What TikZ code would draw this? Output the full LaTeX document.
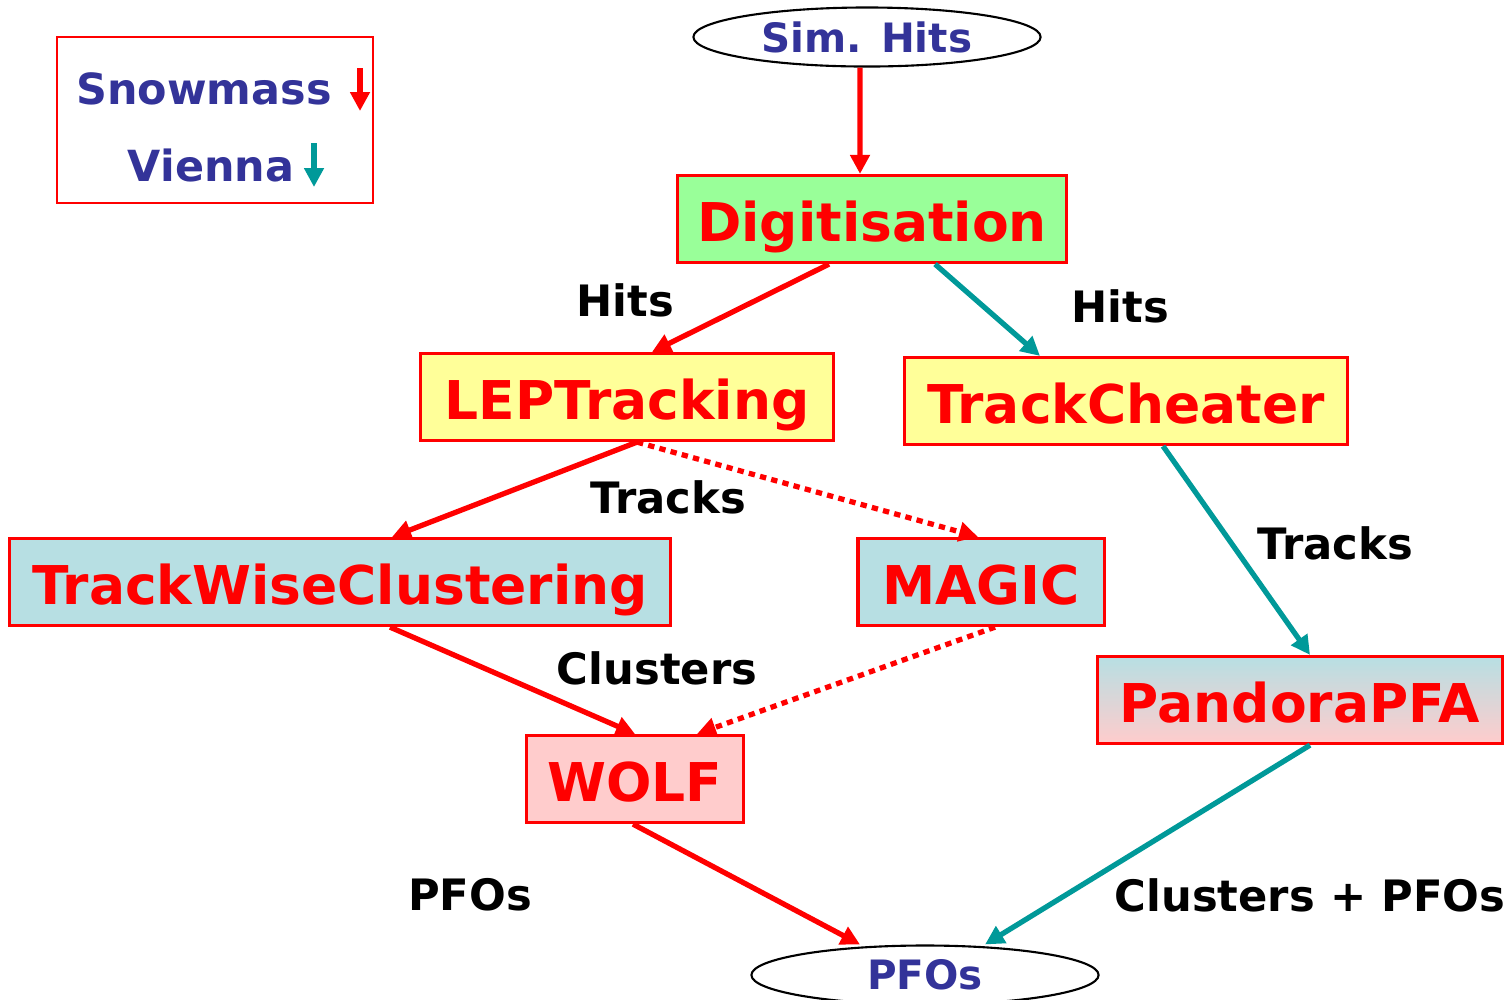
\documentclass[tikz,border=0pt]{standalone}
\usepackage{fontspec}
\setmainfont{DejaVu Sans}
\usepackage{xcolor}
\usetikzlibrary{arrows.meta,shapes.geometric,calc}

\definecolor{boxred}{HTML}{FF0000}
\definecolor{digigreen}{HTML}{99FF99}
\definecolor{lepyellow}{HTML}{FFFF99}
\definecolor{clublue}{HTML}{B7DFE3}
\definecolor{pfapink}{HTML}{FFCCCC}
\definecolor{viennateal}{HTML}{009999}
\definecolor{simblue}{HTML}{333399}

\begin{document}
\begin{tikzpicture}[
    x=0.01cm, y=-0.01cm,
    >={Triangle[length=5.4pt,width=5.4pt]},
    proc/.style={rectangle,draw=boxred,line width=0.9pt,minimum height=0.87cm,inner sep=0pt,
                 text height=0.52cm,text depth=0.08cm,
                 text=boxred,font=\fontsize{15.2}{18}\selectfont\bfseries},
    io/.style={ellipse,draw=black,line width=0.6pt,minimum width=3.47cm,minimum height=0.59cm,inner sep=0pt,
               text=simblue,font=\fontsize{11.5}{14}\selectfont\bfseries},
    flow/.style={font=\fontsize{12.3}{15}\selectfont\bfseries},
    snow/.style={->,draw=boxred,line width=1.5pt},
    vien/.style={->,draw=viennateal,line width=1.5pt},
    snowdot/.style={snow,dash pattern=on 1.8pt off 1.5pt},
]
\useasboundingbox (0,0) rectangle (1504,999);

% ---- legend ----
\node[draw=boxred,line width=0.6pt,minimum width=3.16cm,minimum height=1.66cm] (leg) at (215,120) {};
\node[text=simblue,font=\fontsize{12.2}{15}\selectfont\bfseries] (lsnow) at (204,89) {Snowmass};
\node[text=simblue,font=\fontsize{12.2}{15}\selectfont\bfseries] (lvien) at (211,165) {Vienna};
\coordinate (s1) at (360,68);  \coordinate (s2) at (360,111);
\coordinate (v1) at (314,143); \coordinate (v2) at (314,187);
\draw[snow] (s1) -- (s2);
\draw[vien] (v1) -- (v2);

% ---- processors ----
\node[io] (sim) at (867,37) {Sim. Hits};
\node[proc,fill=digigreen,minimum width=3.89cm] (digi) at (872,219) {Digitisation};
\node[proc,fill=lepyellow,minimum width=4.12cm] (lep) at (627,397) {LEPTracking};
\node[proc,fill=lepyellow,minimum width=4.43cm] (cheat) at (1126,401) {TrackCheater};
\node[proc,fill=clublue,minimum width=6.61cm] (twc) at (340,582) {TrackWiseClustering};
\node[proc,fill=clublue,minimum width=2.46cm] (magic) at (981,582) {MAGIC};
\node[proc,top color=clublue,bottom color=pfapink,minimum width=4.05cm] (pandora) at (1300,700) {PandoraPFA};
\node[proc,fill=pfapink,minimum width=2.17cm] (wolf) at (635,779) {WOLF};
\node[io] (pfo) at (925,975) {PFOs};

% ---- Snowmass chain ----
\draw[snow] ([xshift=-0.07cm]sim.south) -- ([xshift=-0.12cm]digi.north);
\draw[snow] ([xshift=-0.43cm]digi.south) -- ([xshift=0.25cm]lep.north);
\draw[snow] ([xshift=0.1cm]lep.south) -- ([xshift=0.52cm]twc.north);
\draw[snowdot] ([xshift=0.1cm]lep.south) -- ([xshift=-0.03cm]magic.north);
\draw[snow] ([xshift=0.5cm]twc.south) -- (wolf.north);
\draw[snowdot] ([xshift=0.14cm]magic.south) -- ([xshift=0.62cm]wolf.north);
\draw[snow] ([xshift=-0.02cm]wolf.south) -- ([xshift=-0.65cm]pfo.north);

% ---- Vienna chain ----
\draw[vien] ([xshift=0.63cm]digi.south) -- ([xshift=-0.86cm]cheat.north);
\draw[vien] ([xshift=0.37cm]cheat.south) -- ([xshift=0.1cm]pandora.north);
\draw[vien] ([xshift=0.1cm]pandora.south) -- ([xshift=0.6cm]pfo.north);

% ---- collection labels ----
\node[flow] (l1) at (625,300) {Hits};
\node[flow] (l2) at (1120,306) {Hits};
\node[flow] (l3) at (668,497) {Tracks};
\node[flow] (l4) at (1335,543) {Tracks};
\node[flow] (l5) at (657,668) {Clusters};
\node[flow] (l6) at (470,895) {PFOs};
\node[flow] (l7) at (1310,895) {Clusters + PFOs};
\end{tikzpicture}
\end{document}
